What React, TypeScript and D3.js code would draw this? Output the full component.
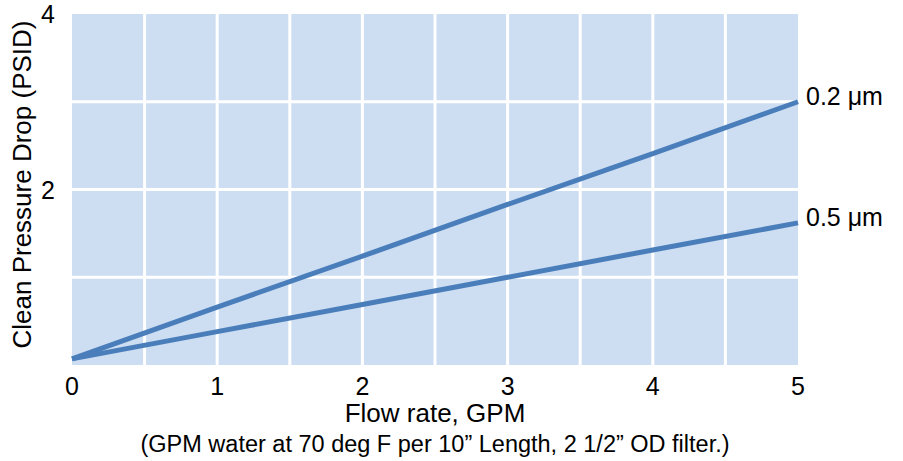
import * as d3 from "d3";

const flowRate = [0, 1, 2, 3, 4, 5];
const drop02 = [0.07, 0.66, 1.24, 1.83, 2.41, 3.0];
const drop05 = [0.07, 0.38, 0.69, 1.0, 1.31, 1.62];
const seriesLabels = ["0.2 \u03bcm", "0.5 \u03bcm"];
const xTicks = [0, 1, 2, 3, 4, 5];
const yTickLabels = [2, 4];
const yGrid = [1, 2, 3];
const xGrid = [0.5, 1, 1.5, 2, 2.5, 3, 3.5, 4, 4.5];

const W = 903;
const H = 461;
const margin = { top: 14, right: 105, bottom: 96, left: 72 };
const font = "'Liberation Sans', Arial, sans-serif";

export default function App() {
  const innerW = W - margin.left - margin.right;
  const innerH = H - margin.top - margin.bottom;

  const x = d3.scaleLinear().domain([0, 5]).range([0, innerW]);
  const y = d3.scaleLinear().domain([0, 4]).range([innerH, 0]);

  const line = d3
    .line<number>()
    .x((_, i) => x(flowRate[i]))
    .y((d) => y(d));

  const series = [drop02, drop05];

  return (
    <svg
      width={W}
      height={H}
      style={{ position: "absolute", left: 0, top: 0, fontFamily: font }}
    >
      <rect width={W} height={H} fill="#fff" />
      <g transform={`translate(${margin.left},${margin.top})`}>
        <rect width={innerW} height={innerH} fill="#cddef2" />
        {xGrid.map((v) => (
          <line
            key={"vx" + v}
            x1={x(v)}
            x2={x(v)}
            y1={0}
            y2={innerH}
            stroke="#fff"
            strokeWidth={3}
          />
        ))}
        {yGrid.map((v) => (
          <line
            key={"hy" + v}
            x1={0}
            x2={innerW}
            y1={y(v)}
            y2={y(v)}
            stroke="#fff"
            strokeWidth={3}
          />
        ))}
        {series.map((s, i) => (
          <path
            key={"s" + i}
            d={line(s) ?? ""}
            fill="none"
            stroke="#4a7ebb"
            strokeWidth={5}
          />
        ))}
        {series.map((s, i) => (
          <text
            key={"l" + i}
            x={x(5) + 8}
            y={y(s[s.length - 1]) + 3}
            fontSize={25}
            fill="#000"
          >
            {seriesLabels[i]}
          </text>
        ))}
        {xTicks.map((v) => (
          <text
            key={"xt" + v}
            x={x(v)}
            y={innerH + 30}
            textAnchor="middle"
            fontSize={25}
          >
            {v}
          </text>
        ))}
        {yTickLabels.map((v) => (
          <text
            key={"yt" + v}
            x={-17}
            y={y(v) + (v === 4 ? 9 : 9)}
            textAnchor="end"
            fontSize={25}
          >
            {v}
          </text>
        ))}
        <text
          x={innerW / 2}
          y={innerH + 57}
          textAnchor="middle"
          fontSize={26}
        >
          Flow rate, GPM
        </text>
        <text
          x={innerW / 2}
          y={innerH + 87}
          textAnchor="middle"
          fontSize={23.5}
        >
          (GPM water at 70 deg F per 10{"\u201d"} Length, 2 1/2{"\u201d"} OD filter.)
        </text>
        <text
          transform={`translate(${-41},${innerH / 2 - 5}) rotate(-90)`}
          textAnchor="middle"
          fontSize={26}
        >
          Clean Pressure Drop (PSID)
        </text>
      </g>
    </svg>
  );
}
